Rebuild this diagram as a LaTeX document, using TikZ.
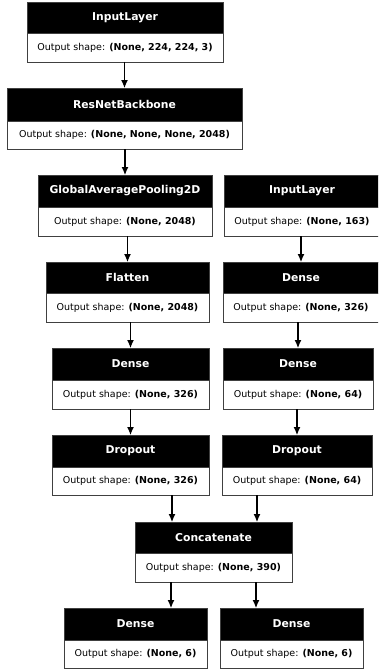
\documentclass[tikz,border=0pt]{standalone}
\usepackage{fontspec}
\setmainfont{DejaVu Sans}
\usetikzlibrary{arrows.meta}
\newcommand\headfont{\fontsize{10.8}{12}\selectfont\bfseries}
\newcommand\bodyfont{\fontsize{9.5}{11}\selectfont}
\tikzset{
  box/.style={draw=black!75, line width=0.9pt, inner sep=0pt, outer sep=0pt,
              anchor=north west},
  hd/.style={box, fill=black, text=white, font=\headfont},
  bd/.style={box, fill=white, text=black, font=\bodyfont},
  arr/.style={line width=1.1pt, -{Latex[length=8pt,width=7pt]}}
}
\begin{document}
\begin{tikzpicture}[x=1pt,y=-1pt]
\useasboundingbox (0,0) rectangle (378,669);
\clip (0,0) rectangle (378,669);

% image branch
\node[hd, minimum width=196, minimum height=31] (in1h) at (27,2) {InputLayer};
\node[bd, minimum width=196, minimum height=29] (in1b) at (in1h.south west) {Output shape: \textbf{(None, 224, 224, 3)}};

\node[hd, minimum width=235, minimum height=33] (resh) at (7,88) {ResNetBackbone};
\node[bd, minimum width=235, minimum height=28] (resb) at (resh.south west) {Output shape: \textbf{(None, None, None, 2048)}};

\node[hd, minimum width=174, minimum height=32] (gaph) at (38,175) {GlobalAveragePooling2D};
\node[bd, minimum width=174, minimum height=29] (gapb) at (gaph.south west) {Output shape: \textbf{(None, 2048)}};

\node[hd, minimum width=163, minimum height=31] (flath) at (46,262) {Flatten};
\node[bd, minimum width=163, minimum height=29] (flatb) at (flath.south west) {Output shape: \textbf{(None, 2048)}};

\node[hd, minimum width=157, minimum height=32] (dlh) at (52,348) {Dense};
\node[bd, minimum width=157, minimum height=29] (dlb) at (dlh.south west) {Output shape: \textbf{(None, 326)}};

\node[hd, minimum width=157, minimum height=32] (droplh) at (52,435) {Dropout};
\node[bd, minimum width=157, minimum height=28] (droplb) at (droplh.south west) {Output shape: \textbf{(None, 326)}};

% tabular branch
\node[hd, minimum width=156, minimum height=32] (in2h) at (224,175) {InputLayer};
\node[bd, minimum width=156, minimum height=29] (in2b) at (in2h.south west) {Output shape: \textbf{(None, 163)}};

\node[hd, minimum width=156, minimum height=31] (dr1h) at (223,262) {Dense};
\node[bd, minimum width=156, minimum height=29] (dr1b) at (dr1h.south west) {Output shape: \textbf{(None, 326)}};

\node[hd, minimum width=150, minimum height=32] (dr2h) at (223,348) {Dense};
\node[bd, minimum width=150, minimum height=29] (dr2b) at (dr2h.south west) {Output shape: \textbf{(None, 64)}};

\node[hd, minimum width=150, minimum height=32] (droprh) at (222,435) {Dropout};
\node[bd, minimum width=150, minimum height=28] (droprb) at (droprh.south west) {Output shape: \textbf{(None, 64)}};

% merge and heads
\node[hd, minimum width=157, minimum height=31] (cath) at (135,522) {Concatenate};
\node[bd, minimum width=157, minimum height=29] (catb) at (cath.south west) {Output shape: \textbf{(None, 390)}};

\node[hd, minimum width=143, minimum height=32] (o1h) at (64,608) {Dense};
\node[bd, minimum width=143, minimum height=28] (o1b) at (o1h.south west) {Output shape: \textbf{(None, 6)}};

\node[hd, minimum width=143, minimum height=32] (o2h) at (220,608) {Dense};
\node[bd, minimum width=143, minimum height=28] (o2b) at (o2h.south west) {Output shape: \textbf{(None, 6)}};

% connectors
\draw[arr] (resh.north |- in1b.south) -- (resh.north);
\draw[arr] (gaph.north |- resb.south) -- (gaph.north);
\draw[arr] (flath.north |- gapb.south) -- (flath.north);
\draw[arr] (dlh.north |- flatb.south) -- (dlh.north);
\draw[arr] (droplh.north |- dlb.south) -- (droplh.north);
\draw[arr] (dr1h.north |- in2b.south) -- (dr1h.north);
\draw[arr] (dr2h.north |- dr1b.south) -- (dr2h.north);
\draw[arr] (droprh.north |- dr2b.south) -- (droprh.north);
\draw[arr] ([xshift=-41.5]cath.north |- droplb.south) -- ([xshift=-41.5]cath.north);
\draw[arr] ([xshift=43.5]cath.north |- droprb.south) -- ([xshift=43.5]cath.north);
\draw[arr] ([xshift=-42.5]catb.south) -- ([xshift=-42.5]catb.south |- o1h.north);
\draw[arr] ([xshift=42.5]catb.south) -- ([xshift=42.5]catb.south |- o2h.north);
\end{tikzpicture}
\end{document}
